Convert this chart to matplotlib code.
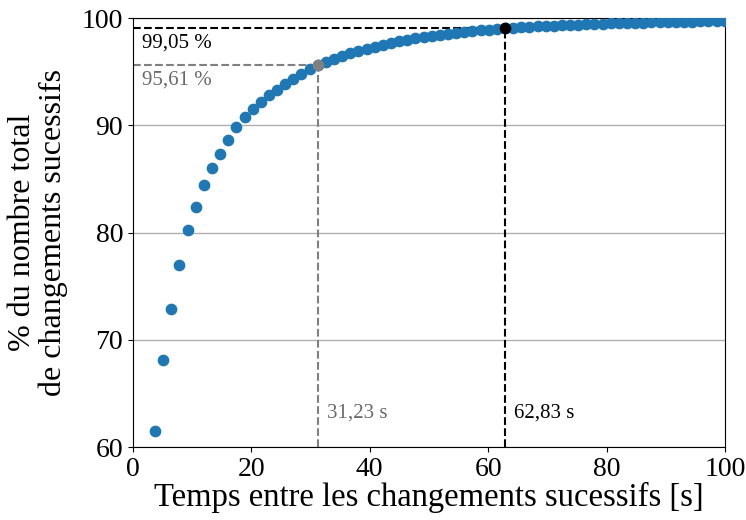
import matplotlib
matplotlib.use("Agg")
import matplotlib.pyplot as plt

# temps entre changements successifs [s]
temps = [3.75, 5.13, 6.50, 7.87, 9.25, 10.62, 11.99, 13.37, 14.74, 16.12,
         17.49, 18.87, 20.24, 21.61, 22.99, 24.36, 25.73, 27.11, 28.48, 29.86,
         31.23, 32.60, 33.98, 35.35, 36.73, 38.10, 39.47, 40.85, 42.22, 43.60,
         44.97, 46.34, 47.72, 49.09, 50.47, 51.84, 53.21, 54.59, 55.96, 57.34,
         58.71, 60.08, 61.46, 62.83, 64.20, 65.58, 66.95, 68.33, 69.70, 71.07,
         72.45, 73.82, 75.20, 76.57, 77.94, 79.32, 80.69, 82.07, 83.44, 84.81,
         86.19, 87.56, 88.93, 90.31, 91.68, 93.06, 94.43, 95.80, 97.18, 98.55,
         99.93]

# % cumule du nombre total de changements
pourcent = [61.52, 68.10, 72.84, 77.00, 80.23, 82.44, 84.46, 86.04, 87.38, 88.62,
            89.87, 90.75, 91.55, 92.20, 92.80, 93.35, 93.85, 94.35, 94.80, 95.22,
            95.61, 95.92, 96.21, 96.48, 96.73, 96.96, 97.17, 97.36, 97.54, 97.70,
            97.85, 97.99, 98.12, 98.24, 98.35, 98.45, 98.55, 98.64, 98.72, 98.79,
            98.86, 98.93, 98.99, 99.05, 99.10, 99.15, 99.19, 99.23, 99.27, 99.31,
            99.34, 99.37, 99.40, 99.43, 99.46, 99.48, 99.51, 99.53, 99.55, 99.57,
            99.59, 99.61, 99.63, 99.65, 99.66, 99.68, 99.69, 99.71, 99.72, 99.73,
            99.75]

# points remarquables
t_gris, p_gris = 31.23, 95.61
t_noir, p_noir = 62.83, 99.05

plt.rcParams['font.family'] = ['Liberation Serif', 'DejaVu Serif']

fig, ax = plt.subplots(figsize=(7.46, 5.2), dpi=100)
fig.subplots_adjust(left=0.178, right=0.972, top=0.965, bottom=0.140)

ax.yaxis.grid(True, color='#b0b0b0', lw=1)
ax.set_axisbelow(True)

# lignes de repere
ax.plot([0, t_gris], [p_gris, p_gris], ls='--', color='grey', lw=1.5, zorder=2)
ax.plot([t_gris, t_gris], [60, p_gris], ls='--', color='grey', lw=1.5, zorder=2)
ax.plot([0, t_noir], [p_noir, p_noir], ls='--', color='black', lw=1.5, zorder=2)
ax.plot([t_noir, t_noir], [60, p_noir], ls='--', color='black', lw=1.5, zorder=2)

ax.scatter(temps, pourcent, s=55, color='#1f77b4', zorder=3)
ax.scatter([t_gris], [p_gris], s=55, color='grey', zorder=4)
ax.scatter([t_noir], [p_noir], s=55, color='black', zorder=4)

ax.text(1.5, p_noir - 0.45, "99,05 %", fontsize=15, va='top', color='black')
ax.text(1.5, p_gris - 0.45, "95,61 %", fontsize=15, va='top', color='dimgrey')
ax.text(t_gris + 1.6, 63.2, "31,23 s", fontsize=15, va='center', color='dimgrey')
ax.text(t_noir + 1.6, 63.2, "62,83 s", fontsize=15, va='center', color='black')

ax.set_xlim(0, 100)
ax.set_ylim(60, 100)
ax.set_xticks([0, 20, 40, 60, 80, 100])
ax.set_yticks([60, 70, 80, 90, 100])
ax.tick_params(labelsize=20)
ax.set_xlabel("Temps entre les changements sucessifs [s]", fontsize=23.5, labelpad=0)
ax.set_ylabel("% du nombre total\nde changements sucessifs", fontsize=23, labelpad=10,
              linespacing=1.05)

fig.savefig("out.png", dpi=100)
